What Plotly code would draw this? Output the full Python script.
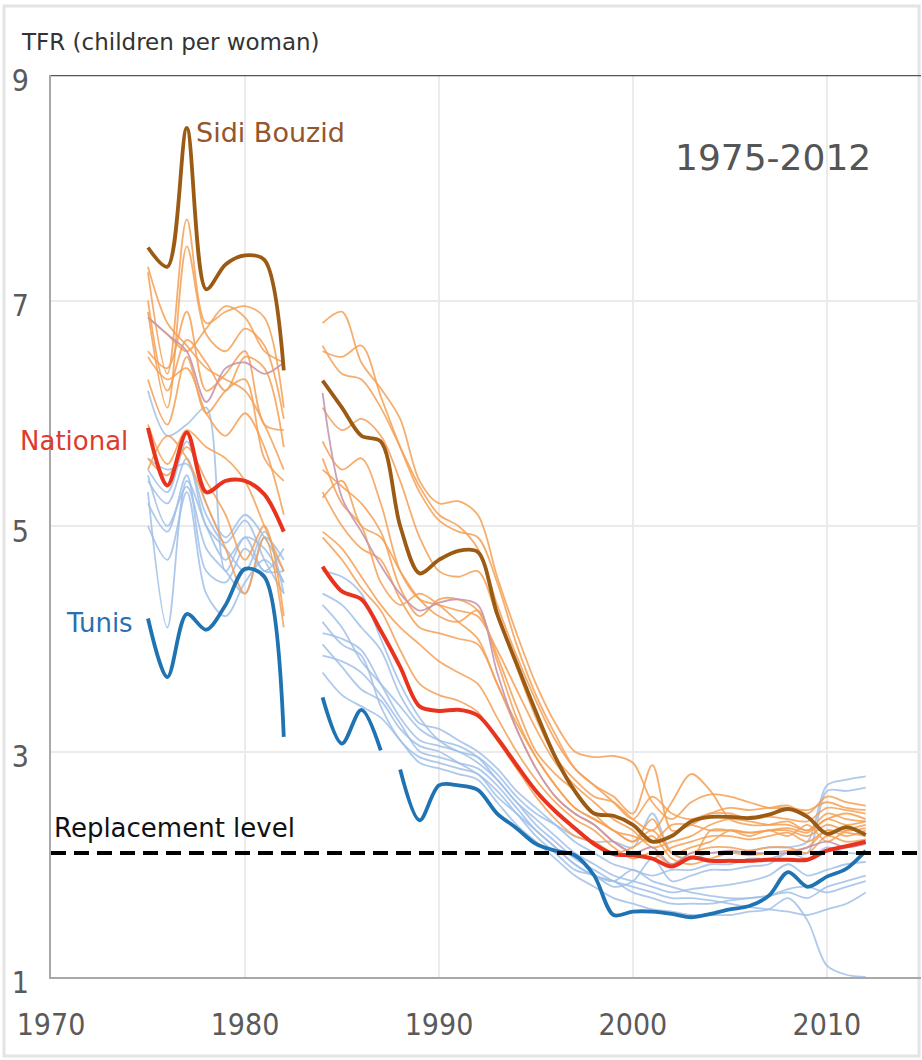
import plotly.graph_objects as go

# ---- years ----
years_a = [1975, 1976, 1977, 1978, 1979, 1980, 1981, 1982]
years_b = list(range(1984, 2013))
tunis_years_b1 = [1984, 1985, 1986, 1987]
tunis_years_b2 = list(range(1988, 2013))

# ---- highlighted series ----
sidi_a = [7.47, 7.30, 8.53, 7.10, 7.32, 7.40, 7.36, 6.38]
sidi_b = [6.29, 6.05, 5.80, 5.75, 5.00, 4.58, 4.70, 4.78, 4.77, 4.22, 3.78, 3.35, 2.95, 2.65, 2.45,
          2.43, 2.35, 2.20, 2.25, 2.38, 2.42, 2.42, 2.41, 2.44, 2.49, 2.42, 2.27, 2.33, 2.26]
national_a = [5.87, 5.36, 5.83, 5.30, 5.40, 5.40, 5.28, 4.95]
national_b = [4.64, 4.42, 4.35, 4.07, 3.75, 3.40, 3.36, 3.37, 3.32, 3.12, 2.88, 2.65, 2.47, 2.32, 2.18,
              2.09, 2.08, 2.05, 1.98, 2.06, 2.03, 2.03, 2.03, 2.04, 2.04, 2.04, 2.12, 2.16, 2.20]
tunis_a = [4.18, 3.66, 4.22, 4.08, 4.30, 4.62, 4.55, 3.13]
tunis_b1 = [3.48, 3.07, 3.37, 3.01]
tunis_b2 = [2.84, 2.39, 2.70, 2.70, 2.66, 2.45, 2.32, 2.18, 2.12, 2.08, 1.90, 1.55, 1.58, 1.58, 1.56,
            1.53, 1.56, 1.60, 1.63, 1.72, 1.93, 1.80, 1.89, 1.96, 2.12]

# ---- other governorates: high-fertility (orange) ----
o1_a = [7.25, 6.35, 7.72, 6.80, 6.90, 6.95, 6.85, 6.05]
o1_b = [6.80, 6.90, 6.45, 6.22, 5.95, 5.40, 5.20, 5.22, 5.10, 4.55, 4.05, 3.60, 3.25, 3.00, 2.95,
        2.96, 2.90, 2.55, 2.40, 2.55, 2.62, 2.60, 2.55, 2.50, 2.50, 2.48, 2.55, 2.50, 2.48]
o2_a = [6.90, 6.05, 7.48, 6.70, 6.55, 6.75, 6.60, 5.95]
o2_b = [6.55, 6.50, 6.60, 6.15, 5.70, 5.30, 5.05, 4.95, 4.90, 4.50, 3.95, 3.50, 3.15, 2.85, 2.70,
        2.60, 2.45, 2.88, 2.30, 2.35, 2.45, 2.50, 2.48, 2.50, 2.52, 2.45, 2.60, 2.55, 2.52]
o3_a = [6.85, 6.70, 6.55, 6.75, 6.95, 6.85, 6.55, 6.45]
o3_b = [6.05, 5.85, 5.95, 5.80, 5.40, 4.90, 4.60, 4.55, 4.60, 4.20, 3.75, 3.30, 2.95, 2.75, 2.60,
        2.55, 2.40, 2.30, 2.55, 2.80, 2.65, 2.40, 2.35, 2.35, 2.38, 2.30, 2.45, 2.40, 2.38]
o4_a = [7.00, 6.20, 6.65, 6.45, 6.20, 6.50, 6.40, 5.70]
o4_b = [5.75, 5.50, 5.60, 5.20, 4.60, 4.35, 4.30, 4.25, 4.20, 3.90, 3.55, 3.20, 2.90, 2.70, 2.55,
        2.40, 2.30, 2.15, 2.20, 2.25, 2.35, 2.40, 2.38, 2.35, 2.35, 2.30, 2.40, 2.45, 2.40]
o5_a = [6.55, 6.40, 6.90, 6.20, 6.35, 6.55, 5.90, 5.85]
o5_b = [5.50, 5.35, 5.20, 4.95, 4.45, 4.20, 4.35, 4.35, 4.25, 3.85, 3.40, 3.00, 2.80, 2.65, 2.45,
        2.30, 2.25, 2.20, 2.35, 2.35, 2.30, 2.30, 2.28, 2.30, 2.30, 2.25, 2.35, 2.30, 2.32]
o6_a = [6.30, 5.90, 6.50, 6.00, 6.20, 6.30, 5.60, 5.40]
o6_b = [5.30, 5.00, 4.80, 4.70, 4.35, 4.10, 4.05, 4.00, 3.95, 3.60, 3.20, 2.85, 2.60, 2.45, 2.35,
        2.20, 2.10, 2.05, 2.15, 2.20, 2.25, 2.25, 2.22, 2.25, 2.28, 2.20, 2.30, 2.28, 2.25]
o7_a = [5.90, 5.55, 5.85, 5.70, 5.60, 5.40, 5.00, 4.60]
o7_b = [4.95, 4.80, 4.55, 4.30, 4.10, 3.95, 3.80, 3.70, 3.60, 3.30, 3.00, 2.75, 2.55, 2.40, 2.30,
        2.15, 2.05, 2.10, 2.00, 2.10, 2.15, 2.15, 2.12, 2.15, 2.15, 2.10, 2.25, 2.20, 2.22]
o8_a = [5.60, 5.45, 5.70, 5.40, 5.10, 4.70, 5.00, 4.20]
o8_b = [5.60, 5.20, 5.00, 4.50, 4.30, 4.40, 4.30, 4.15, 4.00, 3.60, 3.25, 2.95, 2.70, 2.50, 2.40,
        2.30, 2.20, 2.30, 2.10, 2.05, 2.30, 2.30, 2.25, 2.30, 2.25, 2.35, 2.20, 2.30, 2.35]
o9_a = [7.30, 6.80, 6.60, 6.40, 6.30, 6.20, 5.90, 5.50]
o9_b = [6.60, 6.35, 6.30, 6.05, 5.70, 5.35, 5.10, 5.00, 4.80, 4.30, 3.85, 3.45, 3.10, 2.85, 2.70,
        2.55, 2.40, 2.60, 2.45, 2.40, 2.45, 2.45, 2.40, 2.42, 2.40, 2.38, 2.50, 2.48, 2.45]
o10_a = [5.50, 5.80, 5.60, 5.20, 4.80, 4.40, 4.90, 4.10]
o10_b = [4.90, 4.70, 4.45, 4.25, 3.90, 3.60, 3.50, 3.45, 3.35, 3.10, 2.85, 2.60, 2.40, 2.25, 2.20,
         2.10, 2.15, 2.25, 2.05, 2.00, 2.05, 2.10, 2.08, 2.10, 2.12, 2.15, 2.30, 2.25, 2.30]
o11_a = [6.50, 6.30, 6.40, 6.00, 5.80, 6.00, 5.70, 5.10]
o11_b = [5.25, 5.40, 5.00, 4.90, 4.60, 4.35, 4.20, 4.15, 4.25, 3.80, 3.30, 2.95, 2.70, 2.50, 2.40,
         2.30, 2.20, 2.40, 2.10, 2.15, 2.20, 2.30, 2.28, 2.30, 2.32, 2.28, 2.40, 2.35, 2.38]
m1_a = [6.85, 6.70, 6.55, 6.10, 6.40, 6.45, 6.35, 6.45]
m1_b = [6.18, 5.25, 4.95, 4.65, 4.40, 4.25, 4.32, 4.35, 4.30, 3.70, 3.20, 2.85, 2.60, 2.45, 2.35,
        2.20, 2.10, 2.15, 2.00, 2.10, 2.10, 2.12, 2.10, 2.10, 2.10, 2.15, 2.20, 2.15, 2.18]

# ---- other governorates: low-fertility (light blue) ----
b1_a = [6.20, 5.80, 5.90, 6.05, 4.60, 4.90, 4.80, 4.50]
b1_b = [4.60, 4.55, 4.40, 4.00, 3.60, 3.30, 3.10, 3.00, 2.95, 2.80, 2.60, 2.45, 2.35, 2.25, 2.20,
        2.20, 2.15, 2.45, 2.10, 2.05, 2.10, 2.10, 2.12, 2.15, 2.15, 2.20, 2.70, 2.75, 2.78]
b2_a = [5.50, 5.30, 5.75, 5.20, 4.90, 5.10, 4.90, 4.60]
b2_b = [4.40, 4.30, 4.10, 3.90, 3.50, 3.25, 3.20, 3.10, 3.00, 2.85, 2.65, 2.50, 2.35, 2.20, 2.10,
        2.00, 1.95, 1.90, 1.95, 1.95, 2.00, 2.00, 2.05, 2.05, 2.10, 2.10, 2.65, 2.65, 2.68]
b3_a = [5.30, 4.10, 5.40, 5.00, 4.70, 4.90, 4.60, 4.80]
b3_b = [4.05, 4.00, 3.90, 3.60, 3.30, 3.10, 3.05, 3.00, 2.90, 2.75, 2.55, 2.40, 2.25, 2.10, 2.00,
        1.90, 1.85, 1.80, 1.75, 1.78, 1.80, 1.82, 1.85, 1.90, 2.00, 1.90, 1.95, 2.00, 2.02]
b4_a = [5.00, 4.70, 5.30, 4.40, 4.20, 4.50, 4.70, 4.50]
b4_b = [3.85, 3.80, 3.70, 3.50, 3.25, 3.00, 2.95, 2.90, 2.85, 2.70, 2.50, 2.30, 2.15, 2.00, 1.90,
        1.85, 1.75, 1.70, 1.65, 1.65, 1.65, 1.68, 1.70, 1.72, 1.75, 1.70, 1.80, 1.85, 1.90]
b5_a = [5.40, 5.20, 5.60, 5.00, 4.80, 4.60, 4.95, 4.40]
b5_b = [4.30, 4.10, 3.80, 3.60, 3.40, 3.20, 3.10, 3.05, 2.95, 2.75, 2.55, 2.35, 2.20, 2.05, 1.95,
        1.85, 1.80, 1.75, 1.70, 1.70, 1.68, 1.65, 1.62, 1.60, 1.58, 1.55, 1.60, 1.65, 1.75]
b6_a = [5.60, 5.50, 5.55, 5.10, 4.85, 5.05, 4.70, 4.40]
b6_b = [4.15, 3.95, 3.85, 3.40, 3.10, 2.95, 2.90, 2.85, 2.80, 2.60, 2.45, 2.30, 2.15, 2.00, 1.90,
        1.85, 1.95, 1.85, 1.80, 1.75, 1.72, 1.70, 1.70, 1.72, 1.78, 1.80, 1.75, 1.80, 1.85]
b7_a = [5.20, 4.95, 5.45, 4.60, 4.50, 4.80, 4.60, 4.60]
b7_b = [3.70, 3.50, 3.40, 3.30, 3.10, 2.90, 2.85, 2.80, 2.75, 2.55, 2.35, 2.20, 2.05, 1.90, 1.80,
        1.70, 1.65, 1.60, 1.58, 1.55, 1.55, 1.55, 1.58, 1.60, 1.70, 1.50, 1.10, 1.02, 1.00]
b8_a = [5.45, 5.00, 5.35, 4.80, 4.60, 4.40, 4.90, 4.70]
b8_b = [3.95, 3.75, 3.55, 3.45, 3.20, 3.05, 3.00, 2.90, 2.80, 2.65, 2.45, 2.25, 2.10, 1.95, 1.90,
        1.80, 1.85, 2.05, 1.85, 1.90, 1.95, 1.95, 1.98, 2.00, 2.10, 2.05, 2.15, 2.10, 2.10]

replacement_level = 2.1
x_ticks = [1970, 1980, 1990, 2000, 2010]
y_ticks = [1, 3, 5, 7, 9]

ORANGE = "rgba(244,160,85,0.85)"
MAUVE = "rgba(196,150,175,0.9)"
BLUE = "rgba(160,192,232,0.85)"
BROWN = "#9b5b14"
RED = "#e8341f"
TBLUE = "#1f73b2"

fig = go.Figure()


def add_line(xa, ya, xb, yb, color, width):
    fig.add_trace(go.Scatter(
        x=list(xa) + [None] + list(xb), y=list(ya) + [None] + list(yb),
        mode="lines", line=dict(color=color, width=width, shape="spline", smoothing=0.9),
        hoverinfo="skip", showlegend=False, connectgaps=False))


blue_lines = [(b1_a, b1_b), (b2_a, b2_b), (b3_a, b3_b), (b4_a, b4_b),
              (b5_a, b5_b), (b6_a, b6_b), (b7_a, b7_b), (b8_a, b8_b)]
orange_lines = [(o1_a, o1_b), (o2_a, o2_b), (o3_a, o3_b), (o4_a, o4_b), (o5_a, o5_b),
                (o6_a, o6_b), (o7_a, o7_b), (o8_a, o8_b), (o9_a, o9_b), (o10_a, o10_b),
                (o11_a, o11_b)]

for a, b in blue_lines:
    add_line(years_a, a, years_b, b, BLUE, 1.8)
for a, b in orange_lines:
    add_line(years_a, a, years_b, b, ORANGE, 1.8)
add_line(years_a, m1_a, years_b, m1_b, MAUVE, 1.8)

# highlighted
add_line(years_a, sidi_a, years_b, sidi_b, BROWN, 3.8)
add_line(years_a, national_a, years_b, national_b, RED, 4)
fig.add_trace(go.Scatter(
    x=years_a + [None] + tunis_years_b1 + [None] + tunis_years_b2,
    y=tunis_a + [None] + tunis_b1 + [None] + tunis_b2,
    mode="lines", line=dict(color=TBLUE, width=3.8, shape="spline", smoothing=0.9),
    hoverinfo="skip", showlegend=False, connectgaps=False))

# replacement level
fig.add_trace(go.Scatter(
    x=[1970, 2015], y=[replacement_level, replacement_level], mode="lines",
    line=dict(color="black", width=4, dash="15px,8px"), hoverinfo="skip", showlegend=False))

TICKFONT = dict(family="Liberation Sans Narrow, Arial Narrow, DejaVu Sans Condensed, sans-serif",
                size=30, color="#5a5a5a")
LABELFONT = "DejaVu Sans, Verdana, sans-serif"

fig.update_layout(
    width=922, height=1060,
    margin=dict(l=51, r=1, t=75, b=83, autoexpand=False),
    paper_bgcolor="white", plot_bgcolor="white",
    showlegend=False,
    xaxis=dict(range=[1970, 2014.85], tickvals=x_ticks, ticktext=[str(v) for v in x_ticks],
               showgrid=True, gridcolor="#ebebeb", gridwidth=2,
               showline=True, linecolor="#a8a8a8", linewidth=2, automargin=False,
               ticks="", tickfont=TICKFONT, ticklabelstandoff=20, zeroline=False),
    yaxis=dict(range=[1, 9], tickvals=y_ticks, ticktext=[str(v) for v in y_ticks],
               showgrid=True, gridcolor="#ebebeb", gridwidth=2,
               showline=True, linecolor="#a8a8a8", linewidth=2, automargin=False,
               ticks="", tickfont=TICKFONT, ticklabelstandoff=14, ticklabelshift=5,
               zeroline=False),
    shapes=[
        dict(type="line", xref="paper", yref="y", x0=0, x1=1, y0=9, y1=9,
             line=dict(color="#555555", width=2.5)),
        dict(type="rect", xref="paper", yref="paper",
             x0=(4 - 51) / 870, x1=(919 - 51) / 870,
             y0=(977 - 1056) / 902, y1=(977 - 6) / 902,
             line=dict(color="#e4e4e4", width=3), fillcolor="rgba(0,0,0,0)", layer="below"),
    ],
    annotations=[
        dict(text="TFR (children per woman)", xref="paper", yref="paper",
             x=(19 - 51) / 870, y=(977 - 42) / 902, xanchor="left", yanchor="middle",
             showarrow=False, font=dict(family=LABELFONT, size=23, color="#333333")),
        dict(text="1975-2012", x=2007.2, y=8.27, xanchor="center", yanchor="middle",
             showarrow=False, font=dict(family=LABELFONT, size=36, color="#555555")),
        dict(text="Sidi Bouzid", x=1977.35, y=8.49, xanchor="left", yanchor="middle",
             showarrow=False, font=dict(family=LABELFONT, size=27, color="#94562c")),
        dict(text="National", x=1974.07, y=5.75, xanchor="right", yanchor="middle",
             showarrow=False, font=dict(family=LABELFONT, size=26, color="#e03a2c")),
        dict(text="Tunis", x=1974.33, y=4.14, xanchor="right", yanchor="middle",
             showarrow=False, font=dict(family=LABELFONT, size=26, color="#2a6fae")),
        dict(text="Replacement level", x=1970.05, y=2.32, xanchor="left", yanchor="middle",
             showarrow=False, font=dict(family=LABELFONT, size=26, color="#111111")),
    ],
)

fig.write_html("out.html", config={"displayModeBar": False},
               post_script="document.body.style.margin='0px';document.body.style.padding='0px';")
